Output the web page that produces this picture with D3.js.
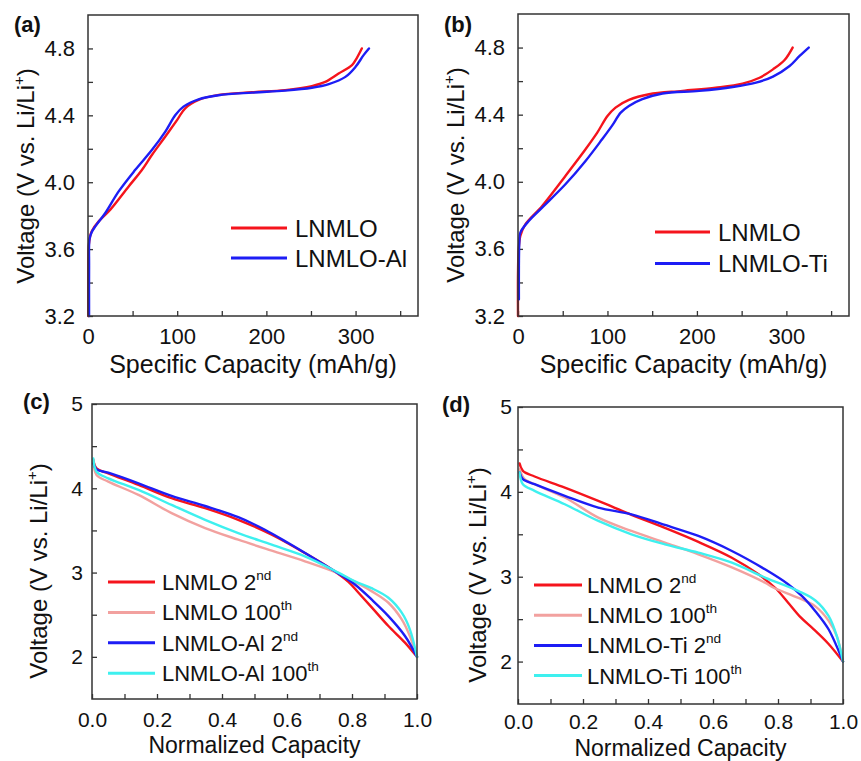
<!DOCTYPE html>
<html><head><meta charset="utf-8">
<script src="https://cdn.jsdelivr.net/npm/d3@7"></script>
<style>body{margin:0;background:#fff}svg{display:block}</style>
</head><body>
<svg id="fig" width="861" height="761"></svg>
<script>
// ---------- data ----------
// Panel (a): charge curves, [capacity mAh/g, voltage V]
const a_LNMLO = [[0.3,3.2],[0.3,3.45],[0.8,3.62],[2.5,3.68],[4.5,3.71],[12,3.766],[25,3.836],[45.6,3.975],[60,4.07],[71.8,4.164],[86.7,4.273],[100,4.373],[109,4.442],[124,4.492],[146.5,4.522],[184,4.538],[221,4.551],[251,4.575],[266,4.60],[281,4.65],[296,4.70],[300,4.73],[307,4.8]];
const a_LNMLO_Al = [[1.2,3.2],[1.2,3.5],[1.7,3.66],[4,3.70],[8.2,3.736],[19.4,3.816],[34.4,3.945],[53,4.074],[71.8,4.194],[86.7,4.303],[98,4.402],[107,4.452],[124,4.496],[146.5,4.52],[184,4.536],[221,4.548],[251,4.565],[270,4.587],[288.6,4.63],[300,4.69],[309,4.76],[315,4.8]];
// Panel (b)
const b_LNMLO = [[0,3.2],[0,3.45],[0.8,3.6],[2.6,3.677],[8.2,3.746],[27,3.856],[53,4.035],[75.5,4.194],[88.6,4.293],[100,4.392],[109,4.442],[124,4.488],[146.5,4.522],[184,4.542],[221,4.561],[251,4.585],[270,4.62],[285,4.67],[298,4.726],[307,4.8]];
const b_LNMLO_Ti = [[1,3.3],[1,3.5],[1.5,3.64],[2.6,3.697],[12,3.766],[27,3.846],[53,3.985],[75.5,4.124],[94,4.253],[105,4.333],[114.8,4.412],[124,4.452],[139,4.492],[161.5,4.526],[202.6,4.542],[240,4.565],[266,4.591],[285,4.627],[303.6,4.69],[314.8,4.75],[325,4.8]];
// Panel (c): discharge curves, [normalized capacity, voltage V]
const c_LNMLO_2 = [[0.004,4.335],[0.014,4.236],[0.05,4.177],[0.143,4.04],[0.245,3.882],[0.348,3.764],[0.45,3.626],[0.553,3.449],[0.655,3.232],[0.737,3.04],[0.789,2.89],[0.82,2.76],[0.86,2.59],[0.912,2.366],[0.963,2.169],[1.0,2.0]];
const c_LNMLO_100 = [[0.004,4.335],[0.014,4.157],[0.05,4.079],[0.143,3.921],[0.245,3.705],[0.348,3.528],[0.45,3.39],[0.553,3.26],[0.655,3.134],[0.758,2.99],[0.809,2.89],[0.86,2.78],[0.912,2.642],[0.953,2.445],[0.978,2.248],[1.0,2.0]];
const c_Al_2 = [[0.004,4.295],[0.014,4.224],[0.05,4.185],[0.143,4.059],[0.245,3.909],[0.348,3.79],[0.45,3.657],[0.532,3.508],[0.604,3.35],[0.686,3.161],[0.758,2.99],[0.809,2.858],[0.86,2.681],[0.912,2.484],[0.963,2.248],[1.0,2.0]];
const c_Al_100 = [[0.004,4.354],[0.014,4.197],[0.05,4.118],[0.143,3.98],[0.245,3.803],[0.348,3.626],[0.45,3.469],[0.553,3.331],[0.655,3.193],[0.758,3.0],[0.809,2.895],[0.86,2.815],[0.912,2.701],[0.953,2.524],[0.978,2.327],[1.0,2.0]];
// Panel (d)
const d_LNMLO_2 = [[0.005,4.335],[0.015,4.248],[0.051,4.181],[0.144,4.051],[0.247,3.894],[0.349,3.73],[0.452,3.575],[0.555,3.41],[0.658,3.224],[0.74,3.028],[0.791,2.87],[0.83,2.70],[0.87,2.52],[0.91,2.38],[0.955,2.21],[1.0,2.0]];
const d_LNMLO_100 = [[0.005,4.268],[0.02,4.15],[0.051,4.09],[0.144,3.933],[0.247,3.697],[0.349,3.539],[0.452,3.402],[0.555,3.264],[0.658,3.11],[0.76,2.93],[0.787,2.87],[0.863,2.75],[0.915,2.65],[0.956,2.48],[0.981,2.3],[1.0,2.0]];
const d_Ti_2 = [[0.005,4.228],[0.015,4.15],[0.051,4.09],[0.144,3.953],[0.247,3.815],[0.349,3.735],[0.452,3.61],[0.555,3.48],[0.658,3.303],[0.76,3.087],[0.832,2.909],[0.874,2.772],[0.915,2.594],[0.956,2.378],[1.0,2.0]];
const d_Ti_100 = [[0.005,4.228],[0.015,4.09],[0.051,4.012],[0.144,3.854],[0.247,3.657],[0.349,3.5],[0.452,3.382],[0.555,3.283],[0.658,3.165],[0.76,2.99],[0.863,2.83],[0.915,2.72],[0.956,2.535],[0.981,2.3],[1.0,2.0]];

// tick values
const xTicksTop = [0,50,100,150,200,250,300,350];
const xLabelsTop = [0,100,200,300];
const yTicksTop = [3.2,3.4,3.6,3.8,4.0,4.2,4.4,4.6,4.8];
const yLabelsTop = [3.2,3.6,4.0,4.4,4.8];
const xTicksBot = [0,0.1,0.2,0.3,0.4,0.5,0.6,0.7,0.8,0.9,1.0];
const xLabelsBot = [0,0.2,0.4,0.6,0.8,1.0];
const yTicksBot = [2,2.5,3,3.5,4,4.5,5];
const yLabelsBot = [2,3,4,5];

// legend labels: [main, superscript]
const legA = [["LNMLO",""],["LNMLO-Al",""]];
const legB = [["LNMLO",""],["LNMLO-Ti",""]];
const legC = [["LNMLO 2","nd"],["LNMLO 100","th"],["LNMLO-Al 2","nd"],["LNMLO-Al 100","th"]];
const legD = [["LNMLO 2","nd"],["LNMLO 100","th"],["LNMLO-Ti 2","nd"],["LNMLO-Ti 100","th"]];

const RED = "#f5141c", PINK = "#f2a19f", BLUE = "#1d1df5", CYAN = "#3ef0ef";

// ---------- drawing ----------
const svg = d3.select("#fig");
const FONT = "'Liberation Sans', Arial, Helvetica, sans-serif";

function panel(p) {
  const g = svg.append("g");
  const x = d3.scaleLinear().domain(p.xd).range([p.l, p.r]);
  const y = d3.scaleLinear().domain(p.yd).range([p.b, p.t]);
  const isLab = (arr, d) => arr.some(v => Math.abs(v - d) < 1e-9);

  const xa = d3.axisBottom(x).tickValues(p.xt).tickSizeInner(-5).tickSizeOuter(0).tickPadding(p.xpad)
    .tickFormat(d => isLab(p.xl, d) ? p.xfmt(d) : "");
  const ya = d3.axisLeft(y).tickValues(p.yt).tickSizeInner(-5).tickSizeOuter(0).tickPadding(p.ypad)
    .tickFormat(d => isLab(p.yl, d) ? p.yfmt(d) : "");

  const gx = g.append("g").attr("transform", `translate(0,${p.b})`).call(xa);
  const gy = g.append("g").attr("transform", `translate(${p.l},0)`).call(ya);
  [gx, gy].forEach(ax => {
    ax.select(".domain").remove();
    ax.selectAll("line").attr("stroke", "#333").attr("stroke-width", 1.3);
    ax.selectAll("text").filter(function(){ return this.textContent === ""; }).remove();
    ax.selectAll("text").attr("font-family", FONT).attr("font-size", p.tfs).attr("fill", "#111");
  });

  // curves
  const line = d3.line().x(d => x(d[0])).y(d => y(d[1])).curve(d3.curveCatmullRom.alpha(0.5));
  p.series.forEach(s => {
    g.append("path").datum(s.data).attr("d", line).attr("fill", "none")
      .attr("stroke", s.color).attr("stroke-width", 2.4).attr("stroke-linejoin", "round").attr("stroke-linecap", "round");
  });

  // frame
  g.append("rect").attr("x", p.l).attr("y", p.t).attr("width", p.r - p.l).attr("height", p.b - p.t)
    .attr("fill", "none").attr("stroke", "#333").attr("stroke-width", 1.5);

  // x title
  g.append("text").attr("x", (p.l + p.r) / 2).attr("y", p.xty).attr("text-anchor", "middle")
    .attr("font-family", FONT).attr("font-size", p.xtfs).attr("fill", "#111").text(p.xtitle);
  // y title
  const yt = g.append("text").attr("transform", `translate(${p.ytx},${p.yty}) rotate(-90)`)
    .attr("text-anchor", "middle").attr("font-family", FONT).attr("font-size", 24).attr("fill", "#111");
  yt.append("tspan").text("Voltage (V vs. Li/Li");
  yt.append("tspan").attr("font-size", 15).attr("dy", -10).text("+");
  yt.append("tspan").attr("dy", 10).text(")");

  // panel letter
  g.append("text").attr("x", p.lx).attr("y", p.ly).attr("font-family", FONT).attr("font-weight", "bold")
    .attr("font-size", 22).attr("fill", "#111").text(p.letter);

  // legend
  p.series.forEach((s, i) => {
    const yy = p.leg.y0 + i * p.leg.dy;
    g.append("line").attr("x1", p.leg.x1).attr("x2", p.leg.x2).attr("y1", yy).attr("y2", yy)
      .attr("stroke", s.color).attr("stroke-width", 3);
    const t = g.append("text").attr("x", p.leg.tx).attr("y", yy + p.leg.fs * 0.36)
      .attr("font-family", FONT).attr("font-size", p.leg.fs).attr("fill", "#111");
    t.append("tspan").text(p.labels[i][0]);
    if (p.labels[i][1]) t.append("tspan").attr("font-size", p.leg.fs * 0.62).attr("dy", -p.leg.fs * 0.45).text(p.labels[i][1]);
  });
}

const fmtInt = d3.format("d"), fmt1 = d3.format(".1f");

panel({l:88, r:418, t:15, b:316, xd:[0,370], yd:[3.2,5.0],
  xt:xTicksTop, xl:xLabelsTop, yt:yTicksTop, yl:yLabelsTop, xfmt:fmtInt, yfmt:fmt1, xpad:12, ypad:13, tfs:22, xtfs:25,
  xtitle:"Specific Capacity (mAh/g)", xty:373, ytx:34, yty:176, letter:"(a)", lx:14, ly:32,
  series:[{data:a_LNMLO, color:RED},{data:a_LNMLO_Al, color:BLUE}], labels:legA,
  leg:{x1:231, x2:287, tx:295, y0:228, dy:30, fs:24}});

panel({l:518, r:849, t:14, b:316, xd:[0,370], yd:[3.2,5.0],
  xt:xTicksTop, xl:xLabelsTop, yt:yTicksTop, yl:yLabelsTop, xfmt:fmtInt, yfmt:fmt1, xpad:12, ypad:13, tfs:22, xtfs:25,
  xtitle:"Specific Capacity (mAh/g)", xty:373, ytx:464, yty:175, letter:"(b)", lx:444, ly:32,
  series:[{data:b_LNMLO, color:RED},{data:b_LNMLO_Ti, color:BLUE}], labels:legB,
  leg:{x1:655, x2:710, tx:718, y0:232, dy:31.5, fs:24}});

panel({l:92, r:417, t:404, b:699, xd:[0,1], yd:[1.5,5],
  xt:xTicksBot, xl:xLabelsBot, yt:yTicksBot, yl:yLabelsBot, xfmt:fmt1, yfmt:fmtInt, xpad:13, ypad:9, tfs:21, xtfs:23,
  xtitle:"Normalized Capacity", xty:753, ytx:47, yty:571, letter:"(c)", lx:23, ly:409,
  series:[{data:c_LNMLO_2, color:RED},{data:c_LNMLO_100, color:PINK},{data:c_Al_2, color:BLUE},{data:c_Al_100, color:CYAN}], labels:legC,
  leg:{x1:108, x2:155, tx:162, y0:582, dy:30.4, fs:22}});

panel({l:518, r:843, t:407, b:704, xd:[0,1], yd:[1.5,5],
  xt:xTicksBot, xl:xLabelsBot, yt:yTicksBot, yl:yLabelsBot, xfmt:fmt1, yfmt:fmtInt, xpad:10, ypad:6, tfs:21, xtfs:23,
  xtitle:"Normalized Capacity", xty:756, ytx:486, yty:575, letter:"(d)", lx:442, ly:412,
  series:[{data:d_LNMLO_2, color:RED},{data:d_LNMLO_100, color:PINK},{data:d_Ti_2, color:BLUE},{data:d_Ti_100, color:CYAN}], labels:legD,
  leg:{x1:534, x2:582, tx:587, y0:585, dy:30.2, fs:22}});
</script>
</body></html>
